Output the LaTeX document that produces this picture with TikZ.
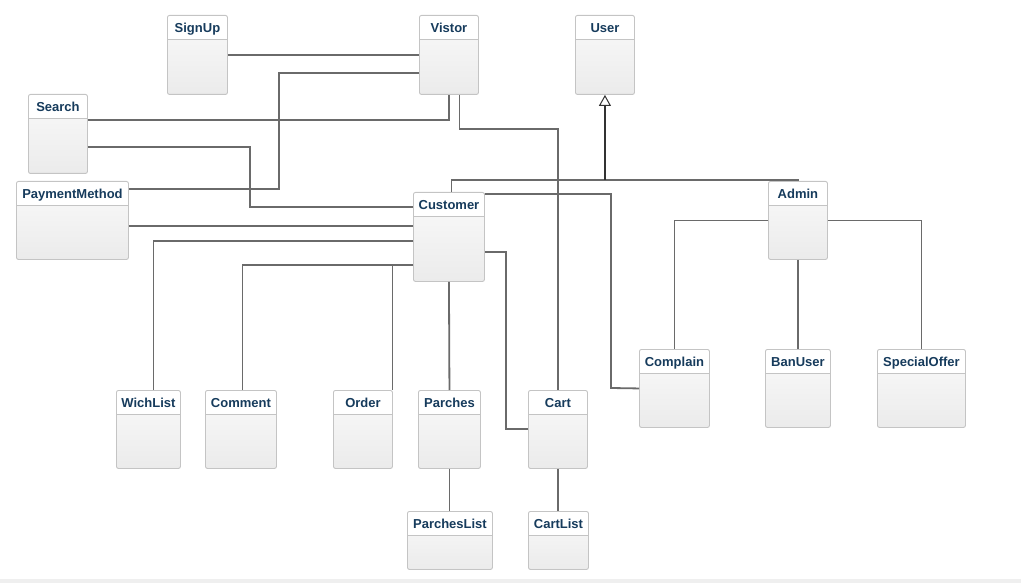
\documentclass[tikz,border=0pt]{standalone}
\usepackage{fontspec}
\setmainfont{Liberation Sans}
\usetikzlibrary{arrows.meta}
\definecolor{boxline}{HTML}{C4C4C4}
\definecolor{boxtop}{HTML}{FAFAFA}
\definecolor{boxbot}{HTML}{EBEBEB}
\definecolor{titlecol}{HTML}{163B5C}
\definecolor{linkcol}{HTML}{6A6A6A}

\begin{document}
\begin{tikzpicture}[x=1pt,y=-1pt,
    cls/.style={draw=boxline, line width=0.9pt, rounded corners=2pt,
      anchor=north west, inner sep=0pt, text height=16.7pt,
      top color=boxtop, bottom color=boxbot,
      font=\fontsize{13}{15}\selectfont\bfseries, text=titlecol,
      path picture={
        \fill[white] (path picture bounding box.north west) rectangle ([yshift=-24pt]path picture bounding box.north east);
        \draw[boxline, line width=0.9pt] ([yshift=-24pt]path picture bounding box.north west) -- ([yshift=-24pt]path picture bounding box.north east);
      }},
    link/.style={draw=linkcol, line width=1.8pt}]
  \useasboundingbox (0,0) rectangle (1021,583);
  \fill[boxbot!80!white] (0,579) rectangle (1021,583);

  \node[cls, minimum width=60, text depth=62.3pt] (signup) at (167,15) {SignUp};
  \node[cls, minimum width=59, text depth=62.3pt] (vistor) at (419,15) {Vistor};
  \node[cls, minimum width=59, text depth=62.3pt] (user) at (575,15) {User};
  \node[cls, minimum width=59, text depth=62.3pt] (search) at (28,94) {Search};
  \node[cls, minimum width=112, text depth=61.3pt] (payment) at (16,181) {PaymentMethod};
  \node[cls, minimum width=71, text depth=72.3pt] (customer) at (413,192) {Customer};
  \node[cls, minimum width=59, text depth=61.3pt] (admin) at (768,181) {Admin};
  \node[cls, minimum width=70, text depth=61.3pt] (complain) at (639,349) {Complain};
  \node[cls, minimum width=65, text depth=61.3pt] (banuser) at (765,349) {BanUser};
  \node[cls, minimum width=88, text depth=61.3pt] (offer) at (877,349) {SpecialOffer};
  \node[cls, minimum width=64, text depth=61.3pt] (wichlist) at (116,390) {WichList};
  \node[cls, minimum width=71, text depth=61.3pt] (comment) at (205,390) {Comment};
  \node[cls, minimum width=59, text depth=61.3pt] (order) at (333,390) {Order};
  \node[cls, minimum width=62, text depth=61.3pt] (parches) at (418,390) {Parches};
  \node[cls, minimum width=59, text depth=61.3pt] (cart) at (528,390) {Cart};
  \node[cls, minimum width=85, text depth=41.3pt] (parcheslist) at (407,511) {ParchesList};
  \node[cls, minimum width=60, text depth=41.3pt] (cartlist) at (528,511) {CartList};

  % visitor side
  \draw[link] (signup.east) -- (vistor.west);
  \draw[link] (vistor.west |- 0,73) -| (279,189) -- (payment.east |- 0,189);
  \draw[link] (search.east |- 0,120) -| (vistor.south);
  \draw[link] ([xshift=10.5pt]vistor.south) |- (cart.north |- 0,129) -- (cart.north);

  % customer side
  \draw[link] (search.east |- 0,147) -| (250,207) -- (customer.west |- 0,207);
  \draw[link] (payment.east |- 0,226) -- (customer.west |- 0,226);
  \draw[link] (customer.west |- 0,241) -| ([xshift=5pt]wichlist.north);
  \draw[link] (customer.west |- 0,265) -| ([xshift=1.5pt]comment.north);
  \draw[link] (customer.west |- 0,265) -| ([xshift=-0.5pt]order.north east);
  \draw[link] (customer.south) -- (parches.north);
  \draw[link] (parches.south) -- (parches.south |- parcheslist.north);
  \draw[link] (customer.east |- 0,252) -| (506,429) -- (cart.west |- 0,429);
  \draw[link] (cart.south) -- (cart.south |- cartlist.north);
  \draw[link] (customer.east |- 0,194) -| (611,388) -- (complain.west);

  % admin side
  \draw[link] (admin.west) -| (complain.north);
  \draw[link] (admin.east) -| (offer.north);
  \draw[link] (admin.south) -- (banuser.north);

  % generalization
  \draw[link] ([xshift=2.5pt]customer.north) |- (admin.north |- 0,180) -- (admin.north);
  \draw[link, -{Triangle[open, width=12pt, length=11pt, line width=1pt]}, draw=black!80] (user.south |- 0,180) -- (user.south);
\end{tikzpicture}
\end{document}
